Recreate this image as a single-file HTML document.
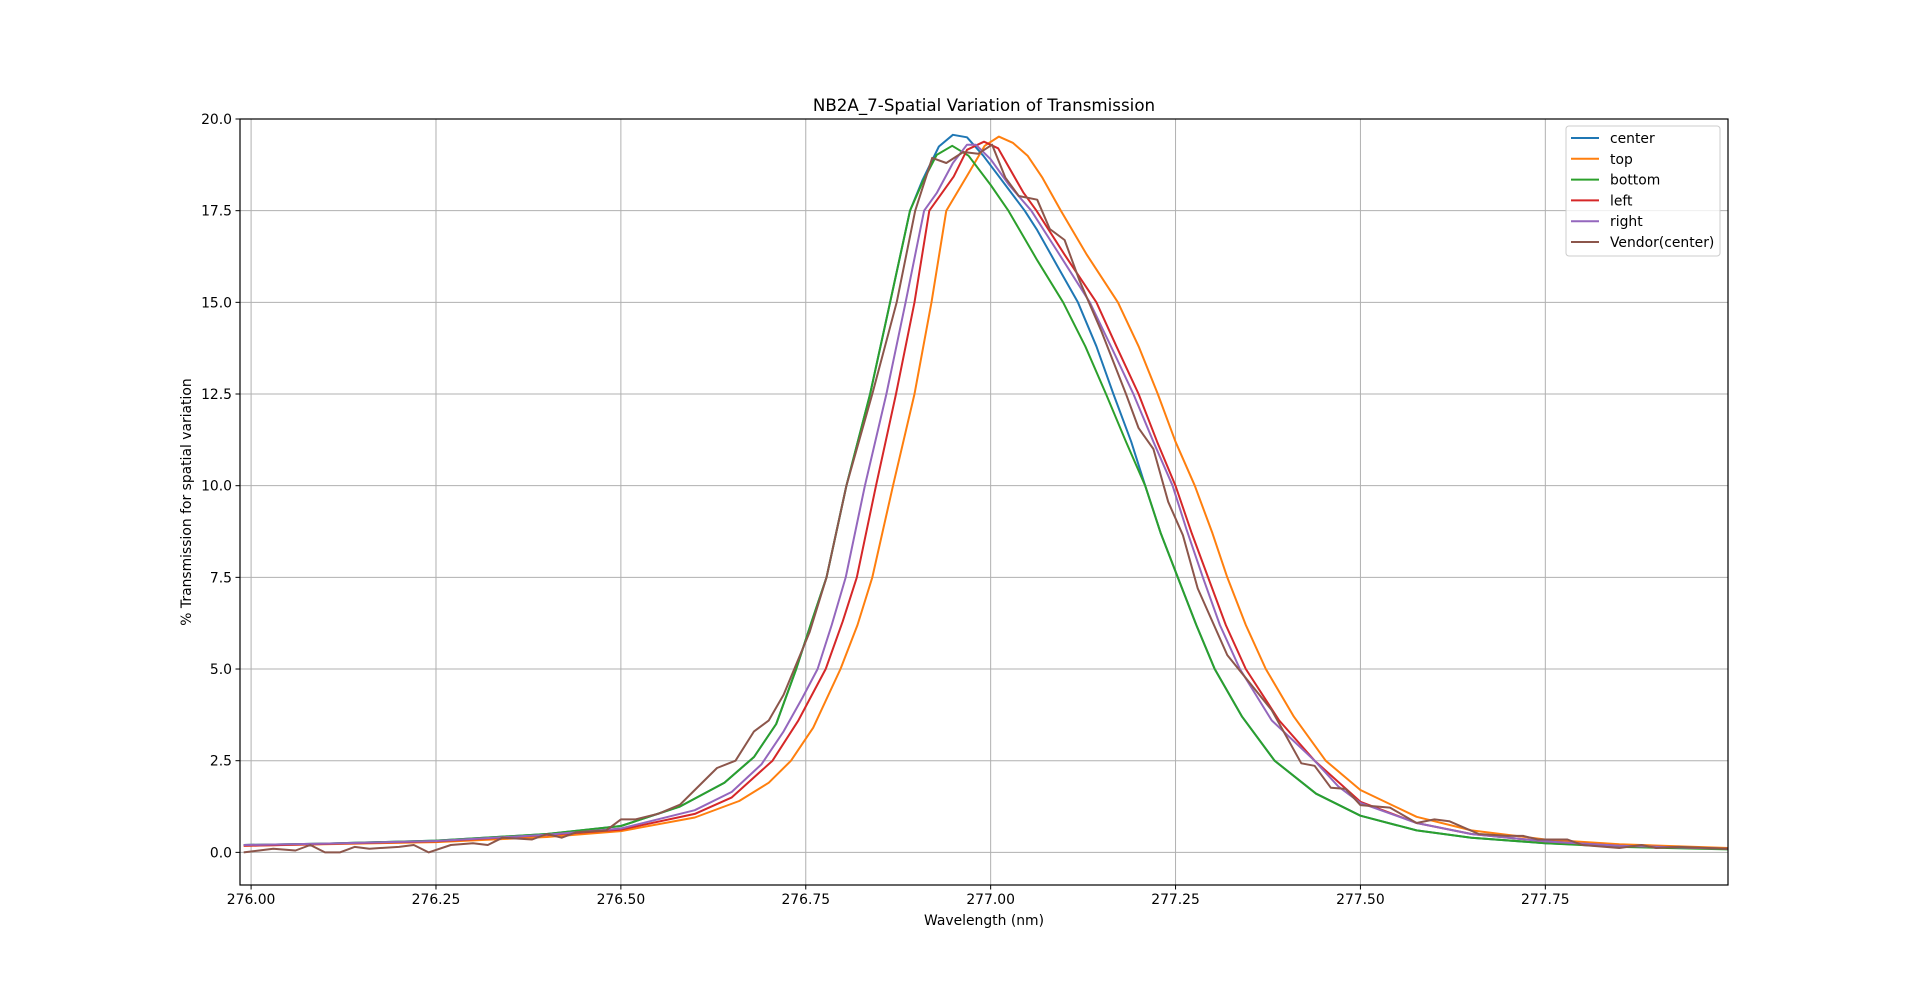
<!DOCTYPE html>
<html><head><meta charset="utf-8"><style>
body{margin:0;background:#fff}
svg{display:block;font-family:"DejaVu Sans","Liberation Sans",sans-serif}
</style></head><body>
<svg id="chart" width="1920" height="994" xmlns="http://www.w3.org/2000/svg"></svg>
<script>
const seriesNames=["center","top","bottom","left","right","Vendor(center)"];
const seriesColors=["#1f77b4","#ff7f0e","#2ca02c","#d62728","#9467bd","#8c564b"];
const xTicks=[276.00,276.25,276.50,276.75,277.00,277.25,277.50,277.75];
const yTicks=[0.0,2.5,5.0,7.5,10.0,12.5,15.0,17.5,20.0];
const centerX=[275.99,276.1,276.25,276.4,276.5,276.58,276.64,276.68,276.71,276.737,276.758,276.778,276.805,276.837,276.864,276.891,276.908,276.93,276.949,276.968,276.99,277.02,277.046,277.063,277.09,277.118,277.143,277.166,277.19,277.209,277.23,277.253,277.278,277.303,277.34,277.384,277.44,277.5,277.576,277.65,277.75,277.85,277.997];
const centerY=[0.2,0.24,0.32,0.5,0.72,1.25,1.9,2.6,3.5,5.0,6.3,7.5,10.0,12.5,15.0,17.5,18.34,19.25,19.57,19.5,19.0,18.2,17.5,16.97,16.0,15.0,13.8,12.5,11.2,10.0,8.7,7.5,6.2,5.0,3.7,2.5,1.6,1.0,0.6,0.4,0.25,0.17,0.1];
const topX=[275.99,276.25,276.4,276.5,276.6,276.66,276.7,276.73,276.76,276.797,276.82,276.84,276.868,276.897,276.92,276.94,276.969,276.992,277.011,277.03,277.05,277.07,277.095,277.13,277.172,277.2,277.226,277.25,277.276,277.3,277.32,277.345,277.372,277.41,277.453,277.5,277.576,277.65,277.75,277.85,277.997];
const topY=[0.18,0.28,0.42,0.58,0.95,1.4,1.9,2.5,3.4,5.0,6.2,7.5,10.0,12.5,15.0,17.5,18.48,19.27,19.52,19.35,19.0,18.4,17.5,16.3,15.0,13.8,12.5,11.2,10.0,8.7,7.5,6.2,5.0,3.7,2.5,1.7,0.97,0.6,0.35,0.22,0.12];
const bottomX=[275.99,276.1,276.25,276.4,276.5,276.58,276.64,276.68,276.71,276.737,276.758,276.778,276.805,276.837,276.864,276.891,276.908,276.927,276.948,276.97,277.0,277.024,277.063,277.098,277.128,277.156,277.183,277.209,277.23,277.253,277.278,277.303,277.34,277.384,277.44,277.5,277.576,277.65,277.75,277.85,277.997];
const bottomY=[0.2,0.24,0.32,0.5,0.72,1.25,1.9,2.6,3.5,5.0,6.3,7.5,10.0,12.5,15.0,17.5,18.28,19.02,19.27,19.0,18.2,17.5,16.15,15.0,13.8,12.5,11.2,10.0,8.7,7.5,6.2,5.0,3.7,2.5,1.6,1.0,0.6,0.4,0.25,0.15,0.08];
const leftX=[275.99,276.25,276.4,276.5,276.6,276.65,276.705,276.74,276.777,276.8,276.819,276.845,276.872,276.897,276.917,276.95,276.968,276.991,277.01,277.044,277.062,277.1,277.143,277.17,277.2,277.225,277.25,277.272,277.294,277.318,277.345,277.39,277.438,277.5,277.576,277.65,277.75,277.85,277.997];
const leftY=[0.18,0.3,0.47,0.62,1.05,1.5,2.5,3.6,5.0,6.3,7.5,10.0,12.5,15.0,17.5,18.43,19.16,19.38,19.2,18.0,17.5,16.3,15.0,13.8,12.5,11.2,10.0,8.7,7.5,6.2,5.0,3.6,2.5,1.38,0.8,0.5,0.3,0.18,0.1];
const rightX=[275.99,276.1,276.25,276.4,276.5,276.6,276.65,276.69,276.72,276.745,276.766,276.785,276.804,276.83,276.859,276.885,276.91,276.927,276.949,276.968,276.98,277.0,277.025,277.055,277.09,277.134,277.165,277.193,277.22,277.246,277.265,277.287,277.31,277.337,277.38,277.438,277.47,277.5,277.576,277.65,277.75,277.85,277.997];
const rightY=[0.2,0.24,0.31,0.48,0.65,1.15,1.65,2.4,3.3,4.2,5.0,6.2,7.5,10.0,12.5,15.0,17.5,17.98,18.8,19.3,19.3,18.9,18.2,17.5,16.4,15.0,13.7,12.5,11.2,10.0,8.8,7.5,6.2,5.0,3.6,2.5,1.8,1.35,0.8,0.5,0.3,0.18,0.1];
const vendorX=[275.99,276.03,276.06,276.08,276.1,276.12,276.14,276.16,276.2,276.22,276.24,276.27,276.3,276.32,276.34,276.38,276.4,276.42,276.44,276.48,276.5,276.52,276.55,276.58,276.6,276.63,276.655,276.68,276.7,276.72,276.755,276.778,276.805,276.84,276.873,276.898,276.921,276.94,276.963,276.983,277.002,277.02,277.038,277.063,277.08,277.1,277.12,277.15,277.183,277.2,277.22,277.24,277.26,277.28,277.32,277.38,277.42,277.438,277.46,277.48,277.5,277.54,277.576,277.6,277.62,277.66,277.7,277.72,277.74,277.78,277.8,277.85,277.88,277.9,277.93,277.997];
const vendorY=[0.0,0.1,0.05,0.2,0.0,0.0,0.15,0.1,0.15,0.2,0.0,0.2,0.25,0.2,0.4,0.35,0.5,0.4,0.55,0.6,0.9,0.9,1.05,1.3,1.7,2.3,2.5,3.3,3.6,4.3,6.0,7.5,10.0,12.5,15.0,17.5,18.94,18.8,19.1,19.05,19.3,18.4,17.9,17.8,17.0,16.7,15.6,14.2,12.5,11.57,11.0,9.56,8.65,7.2,5.38,3.88,2.43,2.36,1.76,1.73,1.29,1.22,0.8,0.9,0.85,0.5,0.45,0.45,0.35,0.35,0.2,0.12,0.2,0.12,0.15,0.1];
const seriesX=[centerX,topX,bottomX,leftX,rightX,vendorX];
const seriesY=[centerY,topY,bottomY,leftY,rightY,vendorY];

const L=240,R=1728,T=119,B=885,XMIN=275.985,XMAX=277.997,YMIN=-0.89,YMAX=20;
const sx=v=>L+(v-XMIN)/(XMAX-XMIN)*(R-L);
const sy=v=>B-(v-YMIN)/(YMAX-YMIN)*(B-T);
const NS="http://www.w3.org/2000/svg";
const svg=document.getElementById('chart');
function mk(tag,attrs,parent){const e=document.createElementNS(NS,tag);for(const k in attrs)e.setAttribute(k,attrs[k]);(parent||svg).appendChild(e);return e;}
const clip=mk('clipPath',{id:'clip'});mk('rect',{x:L,y:T,width:R-L,height:B-T},clip);

xTicks.forEach(t=>{const x=sx(t);
 const g=mk('line',{x1:x,x2:x,y1:T,y2:B,stroke:'#b0b0b0','stroke-width':1});
 
 
 mk('line',{x1:x,x2:x,y1:B,y2:B+4.5,stroke:'#000'});
 const tx=mk('text',{x:x,y:B+19,'text-anchor':'middle','font-size':'13.9px'});tx.textContent=t.toFixed(2);
 
 
});
yTicks.forEach(t=>{const y=sy(t);
 const g=mk('line',{x1:L,x2:R,y1:y,y2:y,stroke:'#b0b0b0','stroke-width':1});
 
 
 mk('line',{x1:L-4.5,x2:L,y1:y,y2:y,stroke:'#000'});
 const tx=mk('text',{x:L-8,y:y+5,'text-anchor':'end','font-size':'13.9px'});tx.textContent=t.toFixed(1);
 
 
});
seriesNames.forEach((n,i)=>{
 const pts=seriesX[i].map((x,j)=>sx(x).toFixed(1)+','+sy(seriesY[i][j]).toFixed(1)).join(' ');
 const p=mk('polyline',{points:pts,fill:'none',stroke:seriesColors[i],'stroke-width':2,'stroke-linejoin':'round','clip-path':'url(#clip)'});
 
 
});
const frame=mk('rect',{x:L,y:T,width:R-L,height:B-T,fill:'none',stroke:'#000','stroke-width':1.2});


const title=mk('text',{x:(L+R)/2,y:111,'text-anchor':'middle','font-size':'16.7px'});title.textContent='NB2A_7-Spatial Variation of Transmission';


const xl=mk('text',{x:(L+R)/2,y:925,'text-anchor':'middle','font-size':'13.9px'});xl.textContent='Wavelength (nm)';


const yl=mk('text',{x:191,y:(T+B)/2,'text-anchor':'middle','font-size':'13.9px',transform:'rotate(-90 191 '+((T+B)/2)+')'});yl.textContent='% Transmission for spatial variation';


const lg=mk('g',{});


mk('rect',{x:1566,y:126,width:154,height:130,rx:3,fill:'#fff','fill-opacity':0.8,stroke:'#ccc'},lg);
seriesNames.forEach((n,i)=>{const y=138+i*20.8;
 const e=mk('g',{},lg);
 
 
 mk('line',{x1:1571,x2:1599,y1:y,y2:y,stroke:seriesColors[i],'stroke-width':2},e);
 const t=mk('text',{x:1610,y:y+5,'font-size':'13.9px'},e);t.textContent=n;
});
</script>
</body></html>
